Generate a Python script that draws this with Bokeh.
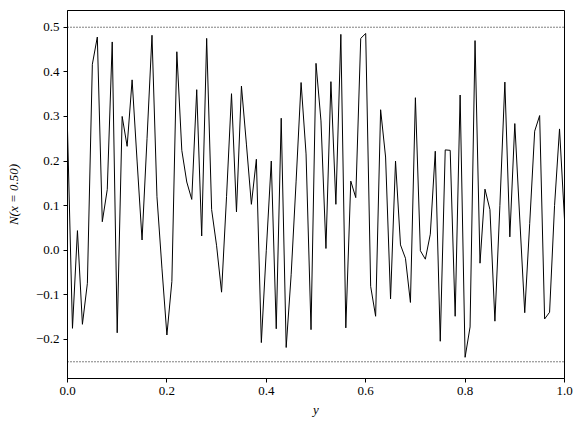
from bokeh.plotting import figure
from bokeh.models import Span, FixedTicker, Range1d, ColumnDataSource
from bokeh.embed import file_html
from bokeh.resources import INLINE

y_pos = [i / 100 for i in range(101)]
n_vals = [
    0.27, -0.175, 0.044, -0.166, -0.074, 0.417, 0.478, 0.064, 0.136, 0.467,
    -0.185, 0.300, 0.233, 0.382, 0.200, 0.023, 0.250, 0.482, 0.120, -0.040,
    -0.190, -0.070, 0.445, 0.224, 0.153, 0.114, 0.360, 0.032, 0.475, 0.091,
    0.010, -0.094, 0.120, 0.351, 0.086, 0.368, 0.238, 0.103, 0.204, -0.207,
    0.000, 0.200, -0.176, 0.296, -0.218, -0.055, 0.155, 0.376, 0.216, -0.178,
    0.419, 0.290, 0.004, 0.378, 0.103, 0.484, -0.174, 0.155, 0.118, 0.475,
    0.486, -0.081, -0.148, 0.315, 0.209, -0.109, 0.200, 0.012, -0.018, -0.117,
    0.342, -0.001, -0.020, 0.036, 0.222, -0.204, 0.225, 0.224, -0.148, 0.348,
    -0.240, -0.172, 0.470, -0.029, 0.137, 0.091, -0.159, 0.100, 0.377, 0.030,
    0.284, 0.070, -0.140, 0.060, 0.267, 0.302, -0.154, -0.139, 0.100, 0.272,
    0.069,
]
bounds = [0.5, -0.25]
x_ticks = [0.0, 0.2, 0.4, 0.6, 0.8, 1.0]
y_ticks = [-0.2, -0.1, 0.0, 0.1, 0.2, 0.3, 0.4, 0.5]

FONT = "Liberation Serif"

p = figure(width=575, height=421, output_backend="svg", toolbar_location=None,
           x_range=Range1d(0, 1), y_range=Range1d(-0.2875, 0.5375),
           min_border_left=67, min_border_right=11, min_border_top=10, min_border_bottom=43)
p.grid.visible = False
p.outline_line_color = "black"
p.outline_line_width = 1
p.background_fill_color = "white"

src = ColumnDataSource(dict(x=y_pos, y=n_vals))
p.line("x", "y", source=src, line_color="black", line_width=1)

for b in bounds:
    p.add_layout(Span(location=b, dimension="width", line_color="black",
                      line_width=1, line_dash="1 2"))

def fmt(v):
    s = f"{v:.1f}"
    return s.replace("-", "\u2212")

p.xaxis.ticker = FixedTicker(ticks=x_ticks)
p.yaxis.ticker = FixedTicker(ticks=y_ticks)
p.xaxis.major_label_overrides = {t: fmt(t) for t in x_ticks}
p.yaxis.major_label_overrides = {t: fmt(t) for t in y_ticks}

for ax in (p.xaxis, p.yaxis):
    ax.major_tick_in = 0
    ax.major_tick_out = 4
    ax.minor_tick_line_color = None
    ax.axis_line_color = "black"
    ax.major_tick_line_color = "black"
    ax.major_label_text_font = FONT
    ax.major_label_text_font_size = "13px"
    ax.major_label_text_color = "black"
    ax.axis_label_text_font = FONT
    ax.axis_label_text_font_size = "13px"
    ax.axis_label_text_color = "black"
    ax.axis_label_text_font_style = "italic"

p.xaxis.axis_label = "y"
p.yaxis.axis_label = "N(x = 0.50)"
p.xaxis.major_label_standoff = 4
p.yaxis.major_label_standoff = 4
p.xaxis.axis_label_standoff = 4
p.yaxis.axis_label_standoff = 12

open("out.html", "w").write(file_html(p, INLINE))
